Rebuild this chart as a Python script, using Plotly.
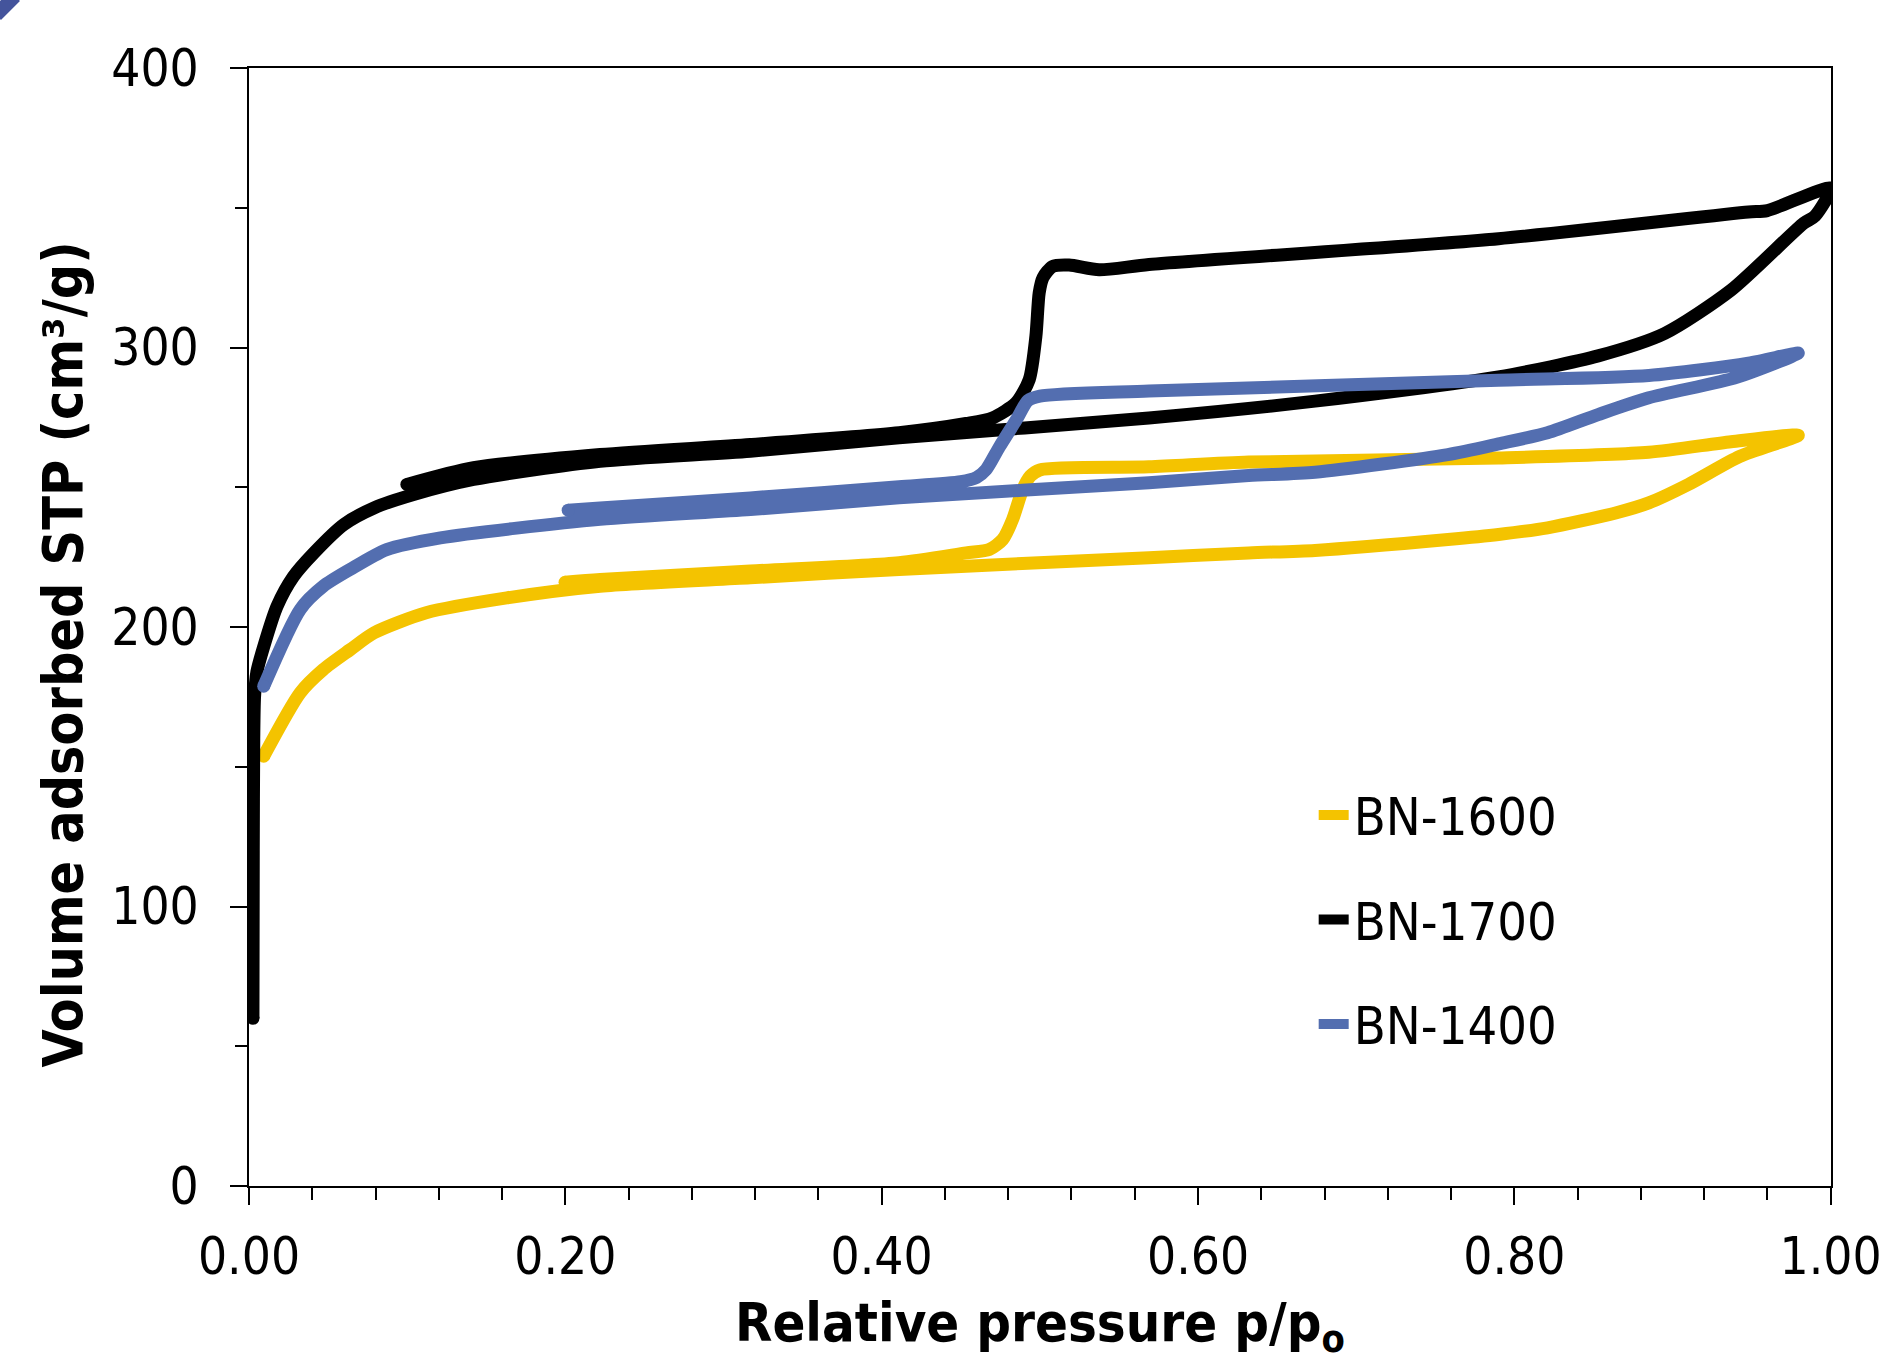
import plotly.graph_objects as go

# ---------------- data ----------------
# BN-1600 (yellow): adsorption branch then desorption branch
bn1600_ads_x = [0.0093, 0.0324, 0.047, 0.064, 0.079, 0.112, 0.163, 0.222, 0.317, 0.411, 0.569,
                0.632, 0.674, 0.758, 0.79, 0.821, 0.864, 0.885, 0.91, 0.9424, 0.9795]
bn1600_ads_y = [153.8, 176.5, 184.8, 191.9, 197.9, 205.1, 210.4, 214.6, 217.6, 220.6, 224.8,
                226.5, 227.4, 231.3, 233.1, 235.5, 240.8, 244.4, 251.0, 261.0, 268.6]
bn1600_des_x = [0.9795, 0.937, 0.885, 0.79, 0.632, 0.569, 0.50, 0.494, 0.489, 0.4828, 0.4765,
                0.468, 0.4534, 0.411, 0.317, 0.222, 0.1998]
bn1600_des_y = [268.6, 266.3, 262.5, 260.5, 259.0, 257.3, 256.2, 254.0, 249.0, 238.5, 231.3,
                227.7, 226.5, 223.0, 220.0, 217.0, 216.0]

# BN-1700 (black)
bn1700_ads_x = [0.0025, 0.0027, 0.003, 0.0035, 0.005, 0.0093, 0.0177, 0.028, 0.041, 0.06, 0.079,
                0.104, 0.142, 0.222, 0.317, 0.411, 0.569, 0.674, 0.79, 0.853, 0.895, 0.937,
                0.983, 0.99, 1.0]
bn1700_ads_y = [60, 120, 160, 175, 184, 193, 207.4, 218, 226.5, 236.7, 242.6,
                247.4, 252.8, 259.3, 262.9, 267.7, 274.8, 280.8, 289.5, 297, 305, 320.5,
                344.5, 347, 357]
bn1700_des_x = [1.0, 0.96, 0.948, 0.79, 0.569, 0.5375, 0.5185, 0.508, 0.502, 0.4996, 0.4975,
                0.4933, 0.485, 0.470, 0.4534, 0.411, 0.317, 0.222, 0.142, 0.0998]
bn1700_des_y = [357.4, 349.0, 348.5, 338.9, 329.7, 327.8, 329.5, 329.0, 325.0, 319.6, 304.0,
                288.5, 280.2, 274.8, 272.8, 269.5, 265.3, 261.7, 257.0, 251.0]

# BN-1400 (blue)
bn1400_ads_x = [0.0093, 0.0324, 0.047, 0.064, 0.087, 0.121, 0.222, 0.317, 0.411, 0.569, 0.632,
                0.674, 0.758, 0.79, 0.821, 0.853, 0.885, 0.941, 0.9795]
bn1400_ads_y = [178.8, 206.3, 214.6, 220.6, 227.7, 231.9, 238.5, 242.0, 246.2, 251.6, 254.2,
                255.4, 261.7, 265.5, 269.5, 276.0, 282.0, 289.4, 298.0]
bn1400_des_x = [0.9795, 0.948, 0.885, 0.79, 0.569, 0.50, 0.4925, 0.485, 0.4744, 0.466, 0.46,
                0.45, 0.411, 0.317, 0.222, 0.2018]
bn1400_des_y = [298.0, 294.4, 290.0, 288.3, 284.4, 282.6, 281.0, 274.0, 264.4, 256.3, 253.5,
                252.0, 250.2, 246.2, 242.6, 241.8]

series_names = ["BN-1600", "BN-1700", "BN-1400"]
series_colors = ["#F4C300", "#000000", "#536EB0"]

x_tick_vals = [0.0, 0.2, 0.4, 0.6, 0.8, 1.0]
x_tick_text = ["0.00", "0.20", "0.40", "0.60", "0.80", "1.00"]
y_tick_vals = [0, 100, 200, 300, 400]

x_title = "Relative pressure p/p<sub>o</sub>"
y_title = "Volume adsorbed STP (cm³/g)"

# ---------------- figure ----------------
FONT = "DejaVu Sans Condensed, DejaVu Sans, sans-serif"
LW = 13
W, H = 1883, 1361
ML, MR, MT, MB = 249, 52, 68, 175
PW, PH = W - ML - MR, H - MT - MB

branches = [
    (bn1600_ads_x + bn1600_des_x[1:], bn1600_ads_y + bn1600_des_y[1:]),
    (bn1700_ads_x + bn1700_des_x[1:], bn1700_ads_y + bn1700_des_y[1:]),
    (bn1400_ads_x + bn1400_des_x[1:], bn1400_ads_y + bn1400_des_y[1:]),
]

fig = go.Figure()
for name, color, (xs, ys) in zip(series_names, series_colors, branches):
    fig.add_trace(go.Scatter(
        x=xs, y=ys, mode="lines", name=name, legendgroup=name,
        line=dict(color=color, width=LW, shape="spline", smoothing=0.7),
    ))
    # round end caps
    fig.add_trace(go.Scatter(
        x=[xs[0], xs[-1]], y=[ys[0], ys[-1]], mode="markers", showlegend=False,
        legendgroup=name, hoverinfo="skip",
        marker=dict(color=color, size=LW, line=dict(width=0)),
    ))

axis_common = dict(
    showgrid=False, zeroline=False, showline=True, linecolor="black", linewidth=2,
    mirror=True, ticks="outside", tickcolor="black", tickwidth=2, ticklen=17,
    tickfont=dict(family=FONT, size=51, color="black"),
    ticklabeloverflow="allow", automargin=False,
)

fig.update_xaxes(
    **axis_common, range=[0, 1.0002], tickvals=x_tick_vals, ticktext=x_tick_text,
    ticklabelstandoff=8,
    minor=dict(dtick=0.04, tick0=0, ticks="outside", ticklen=12, tickwidth=2, tickcolor="black"),
)
fig.update_yaxes(
    **axis_common, range=[0, 400], tickvals=y_tick_vals,
    ticklabelstandoff=21,
    minor=dict(dtick=50, tick0=0, ticks="outside", ticklen=12, tickwidth=2, tickcolor="black"),
)

fig.update_layout(
    width=W, height=H, autosize=False,
    margin=dict(l=ML, r=MR, t=MT, b=MB),
    paper_bgcolor="white", plot_bgcolor="white",
    font=dict(family=FONT, size=52, color="black"),
    showlegend=True,
    legend=dict(x=0.673, y=0.368, xanchor="left", yanchor="top",
                bgcolor="rgba(0,0,0,0)", traceorder="grouped", tracegroupgap=34,
                font=dict(family=FONT, size=52, color="black"), itemwidth=30),
    annotations=[
        dict(text=y_title, textangle=-90, showarrow=False,
             xref="paper", yref="paper", xanchor="center", yanchor="middle",
             x=(62 - ML) / PW, y=(H - MB - 654.5) / PH,
             font=dict(family=FONT, size=55, color="black", weight="bold")),
        dict(text=x_title, showarrow=False,
             xref="paper", yref="paper", xanchor="center", yanchor="middle",
             x=(1040 - ML) / PW, y=(H - MB - 1326) / PH,
             font=dict(family=FONT, size=54, color="black", weight="bold")),
    ],
    shapes=[dict(type="line", xref="paper", yref="paper",
                 x0=(-4 - ML) / PW, y0=(H - MB - 15) / PH,
                 x1=(15 - ML) / PW, y1=(H - MB + 4) / PH,
                 line=dict(color="#44549C", width=14))],
)

fig.write_html(
    "out.html",
    config={"responsive": False, "displayModeBar": False},
    post_script="document.body.style.margin='0';document.body.style.overflow='hidden';",
)
